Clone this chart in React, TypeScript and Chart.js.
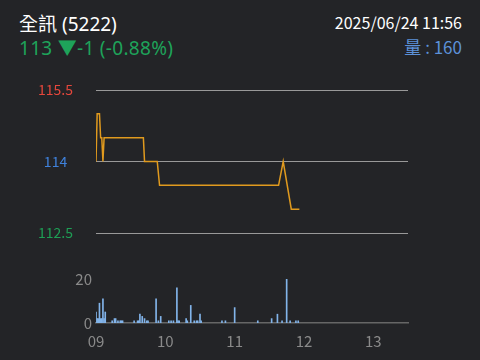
import React, { useEffect, useRef } from "react";
import { Chart, registerables } from "chart.js";

Chart.register(...registerables);

// minutes after 09:00 and trade prices
const priceTimes = [0, 1, 3, 4, 5, 6, 7, 41, 42, 53, 55, 158, 162, 169, 176];
const priceValues = [114, 115, 115, 114.5, 114.5, 114, 114.5, 114.5, 114, 114, 113.5, 113.5, 114, 113, 113];

// minutes after 09:00 and traded volume
const volumeTimes = [
  0, 1, 2, 3, 4, 5, 6, 7, 8, 14, 16, 17, 19, 21, 22, 23, 33, 36, 37, 38, 40, 42, 44, 45,
  52, 54, 56, 63, 65, 67, 70, 71, 72, 78, 79, 82, 85, 87, 88, 90, 91,
  109, 112, 120, 140, 152, 157, 161, 165, 168, 173, 175,
];
const volumeValues = [
  5, 2, 2, 9, 2, 2, 11, 2, 5, 1, 2, 2, 1, 1, 1, 1, 1, 1, 1, 4, 3, 2, 1, 1,
  11, 1, 3, 1, 1, 1, 16, 1, 1, 2, 1, 8, 1, 1, 1, 4, 1,
  1, 1, 7, 1, 2, 4, 1, 20, 1, 1, 1,
];

const priceTicks = [112.5, 114, 115.5];
const priceTickColors = ["#1e9e55", "#3f82dc", "#e5473c"];
const hourTicks = [0, 60, 120, 180, 240];
const hourLabels = ["09", "10", "11", "12", "13"];
const volumeTicks = [0, 20];

const FONT = '"Noto Sans CJK TC", "Noto Sans", sans-serif';
const LATIN_FONT = '"Noto Sans", "Noto Sans CJK TC", sans-serif';

export default function App() {
  const priceRef = useRef<HTMLCanvasElement | null>(null);
  const volRef = useRef<HTMLCanvasElement | null>(null);

  useEffect(() => {
    document.body.style.margin = "0";
    document.body.style.background = "#232427";
    const pc = new Chart(priceRef.current!, {
      type: "line",
      data: {
        datasets: [
          {
            data: priceTimes.map((t, i) => ({ x: t, y: priceValues[i] })),
            borderColor: "#e09a1e",
            borderWidth: 1.5,
            pointRadius: 0,
            tension: 0,
          },
        ],
      },
      options: {
        animation: false,
        responsive: false,
        maintainAspectRatio: false,
        layout: { padding: { top: 90, bottom: 127, left: 0, right: 72 } },
        plugins: { legend: { display: false }, tooltip: { enabled: false } },
        scales: {
          x: { type: "linear", min: 0, max: 270, display: false },
          y: {
            min: 112.5,
            max: 115.5,
            afterBuildTicks: (s: any) => {
              s.ticks = priceTicks.map((v) => ({ value: v }));
            },
            afterFit: (s: any) => {
              s.width = 96;
            },
            grid: { color: "#999999", drawTicks: false, lineWidth: 1 },
            border: { display: false },
            ticks: {
              padding: 23,
              crossAlign: "center",
              font: { family: FONT, size: 14 },
              color: (ctx: any) => {
                const i = priceTicks.indexOf(ctx.tick?.value);
                return i >= 0 ? priceTickColors[i] : "#888";
              },
              callback: (v: any) => String(v),
            },
          },
        },
      },
    } as any);

    const vc = new Chart(volRef.current!, {
      type: "bar",
      data: {
        datasets: [
          {
            data: volumeTimes.map((t, i) => ({ x: t, y: volumeValues[i] })),
            backgroundColor: "#82b4ea",
            barThickness: 1,
            borderWidth: 0,
          },
        ],
      },
      options: {
        animation: false,
        responsive: false,
        maintainAspectRatio: false,
        layout: { padding: { top: 279, bottom: 7, left: 0, right: 72 } },
        plugins: { legend: { display: false }, tooltip: { enabled: false } },
        scales: {
          x: {
            type: "linear",
            min: 0,
            max: 270,
            offset: false,
            afterBuildTicks: (s: any) => {
              s.ticks = hourTicks.map((v) => ({ value: v }));
            },
            afterFit: (s: any) => {
              s.height = 30;
            },
            grid: { display: false, drawTicks: false },
            border: { display: true, color: "#666666", width: 1.5 },
            ticks: {
              padding: 9,
              maxRotation: 0,
              autoSkip: false,
              color: "#8a8a8a",
              font: { family: FONT, size: 15 },
              callback: (v: any) => hourLabels[hourTicks.indexOf(v)] ?? "",
            },
          },
          y: {
            min: 0,
            max: 20,
            afterBuildTicks: (s: any) => {
              s.ticks = volumeTicks.map((v) => ({ value: v }));
            },
            afterFit: (s: any) => {
              s.width = 96;
            },
            grid: { display: false, drawTicks: false },
            border: { display: false },
            ticks: {
              padding: 4,
              color: "#8a8a8a",
              font: { family: FONT, size: 15 },
            },
          },
        },
      },
    } as any);

    return () => {
      pc.destroy();
      vc.destroy();
    };
  }, []);

  const canvasStyle: React.CSSProperties = {
    position: "absolute",
    left: 0,
    top: 0,
    width: 480,
    height: 360,
  };

  return (
    <div
      style={{
        position: "fixed",
        left: 0,
        top: 0,
        width: 480,
        height: 360,
        background: "#232427",
        fontFamily: FONT,
        overflow: "hidden",
      }}
    >
      <div style={{ position: "absolute", left: 19, top: 11, fontSize: 19, lineHeight: "26px", color: "#ffffff", fontFamily: LATIN_FONT }}>
        全訊 (5222)
      </div>
      <div style={{ position: "absolute", left: 19, top: 35, fontSize: 19, lineHeight: "26px", color: "#1ea35a", fontFamily: LATIN_FONT, letterSpacing: 0.3 }}>
        113 ▼-1 (-0.88%)
      </div>
      <div style={{ position: "absolute", right: 18, top: 9, fontSize: 16, lineHeight: "26px", color: "#ffffff" }}>
        2025/06/24 11:56
      </div>
      <div style={{ position: "absolute", right: 18, top: 34, fontSize: 17, lineHeight: "26px", color: "#5c91d8" }}>
        量 : 160
      </div>
      <canvas ref={priceRef} width={480} height={360} style={canvasStyle} />
      <canvas ref={volRef} width={480} height={360} style={canvasStyle} />
    </div>
  );
}
